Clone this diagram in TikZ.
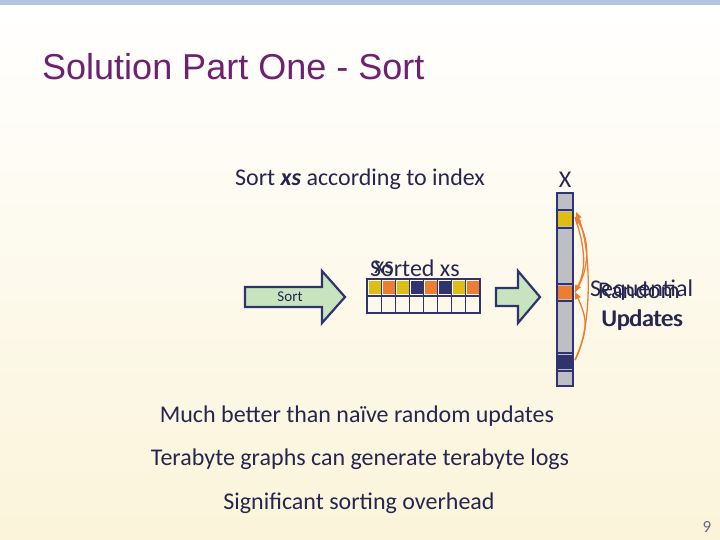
\documentclass[tikz,border=0pt]{standalone}
\usepackage{fontspec}
\setmainfont{Carlito}
\newfontfamily\titlefont{Liberation Sans}
\usetikzlibrary{arrows.meta}
\definecolor{navy}{RGB}{47,52,110}
\definecolor{gold}{RGB}{222,190,20}
\definecolor{orng}{RGB}{237,125,49}
\definecolor{grn}{RGB}{200,228,190}
\definecolor{cellgray}{RGB}{190,190,198}
\definecolor{ttl}{RGB}{112,32,112}
\definecolor{txt}{RGB}{38,38,80}
\definecolor{bgbot}{RGB}{251,244,218}
\definecolor{topbar}{RGB}{180,196,228}
\tikzset{
  fatarrow/.style={draw=navy,line width=2.2pt,fill=grn,line join=miter},
  cell/.style={draw=navy,line width=1.6pt},
  upd/.style={draw=orng,line width=1.3pt,-{Triangle[length=7pt,width=6pt]}},
  lbl/.style={text=txt,font=\fontsize{24}{28}\selectfont,inner sep=0pt},
}
\begin{document}
\begin{tikzpicture}[x=1pt,y=-1pt]
\useasboundingbox (0,0) rectangle (720,540);
\shade[top color=white,bottom color=bgbot] (0,0) rectangle (720,540);
\fill[topbar] (0,0) rectangle (720,5);
\node[anchor=west,text=ttl,font=\titlefont\fontsize{36}{40}\selectfont,inner sep=0pt] (title) at (42,67) {Solution Part One - Sort};
\node[lbl,anchor=west] (t1) at (235,179) {Sort \textbf{\textit{xs}} according to index};
\node[lbl] (tx) at (565,180) {X};
% sort arrow
\draw[fatarrow] (245,287)--(322,287)--(322,271)--(345,297)--(322,323)--(322,307)--(245,307)--cycle;
\node[text=txt,font=\fontsize{15}{18}\selectfont,inner sep=0pt] (sortl) at (290,297) {Sort};
% array
\foreach \c [count=\i from 0] in {gold,orng,gold,navy,orng,navy,gold,orng}{
  \fill[\c] (369+\i*14,281) rectangle (381+\i*14,294);
}
\draw[cell] (367,279) rectangle (480,313);
\draw[cell] (367,296)--(480,296);
\foreach \i in {1,...,7}{\draw[cell,line width=1.1pt] (367+\i*14.1,279)--(367+\i*14.1,313);}
\node[lbl,anchor=west] (xs) at (374,268) {xs};
\node[lbl,anchor=west] (sxs) at (370,268) {Sorted xs};
% second arrow
\draw[fatarrow] (496,288)--(518,288)--(518,271)--(540,297)--(518,323)--(518,306)--(496,306)--cycle;
% column X
\fill[cellgray] (557,193) rectangle (573,386);
\fill[gold] (558,212) rectangle (572,226);
\fill[orng] (558,286) rectangle (572,299);
\fill[navy] (558,355) rectangle (572,369);
\draw[cell] (557,193) rectangle (573,386);
\foreach \y in {210,228,284,301,353,371}{\draw[cell,line width=1.2pt] (557,\y)--(573,\y);}
\coordinate (cy) at (575,217);
\coordinate (co) at (575,292);
\coordinate (cn) at (575,360);
\coordinate (cy2) at (576,212);
\draw[upd] (cn) .. controls (592,330) and (592,250) .. (cy2);
\draw[upd] (cn) .. controls (588,330) and (588,320) .. (co);
\draw[upd] (co) .. controls (590,270) and (590,240) .. (cy);
\draw[upd] (cy) .. controls (586,250) and (586,270) .. (co);
\node[lbl,anchor=west] (seq) at (590,290) {Sequential};
\node[lbl,anchor=west] (rnd) at (598,290) {Random};
\node[lbl,anchor=west] (up1) at (601,320) {Updates};
\node[lbl,anchor=west] (up2) at (602,320) {Updates};
\node[lbl] (b1) at (357,416) {Much better than naïve random updates};
\node[lbl] (b2) at (360,459) {Terabyte graphs can generate terabyte logs};
\node[lbl] (b3) at (359,503) {Significant sorting overhead};
\node[text=txt!70,font=\fontsize{17}{20}\selectfont,inner sep=0pt] (pg) at (707,527) {9};
\end{tikzpicture}
\end{document}
